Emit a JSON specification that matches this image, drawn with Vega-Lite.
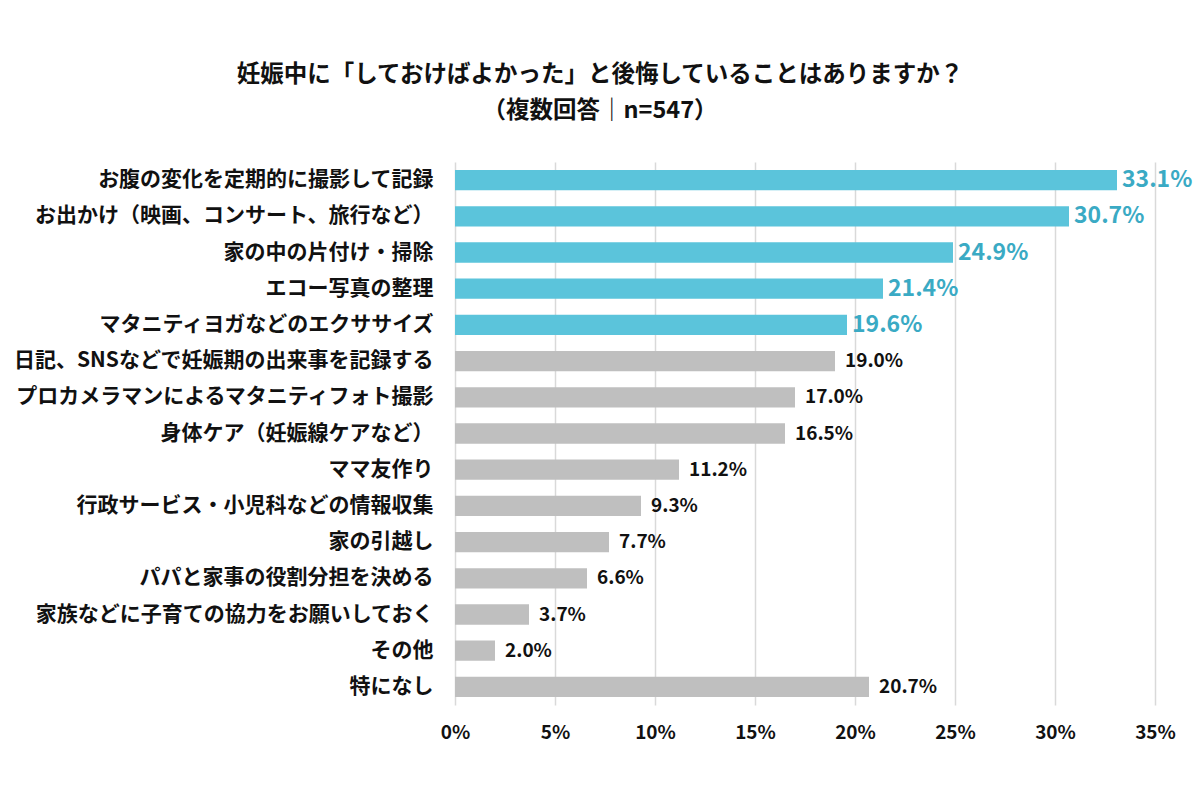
{
  "$schema": "https://vega.github.io/schema/vega-lite/v6.json",
  "width": 700,
  "height": 543,
  "autosize": {"type": "none"},
  "padding": {"left": 455, "top": 162, "right": 45, "bottom": 95},
  "background": "white",
  "title": {
    "text": ["妊娠中に「しておけばよかった」と後悔していることはありますか？", "（複数回答｜n=547）"],
    "font": "Noto Sans CJK JP",
    "fontSize": 23.5,
    "fontWeight": "bold",
    "color": "#111111",
    "lineHeight": 36,
    "anchor": "middle",
    "dx": -205,
    "offset": 40
  },
  "data": {
    "values": [
      {"item": "お腹の変化を定期的に撮影して記録", "value": 33.1, "label": "33.1%", "hl": "yes"},
      {"item": "お出かけ（映画、コンサート、旅行など）", "value": 30.7, "label": "30.7%", "hl": "yes"},
      {"item": "家の中の片付け・掃除", "value": 24.9, "label": "24.9%", "hl": "yes"},
      {"item": "エコー写真の整理", "value": 21.4, "label": "21.4%", "hl": "yes"},
      {"item": "マタニティヨガなどのエクササイズ", "value": 19.6, "label": "19.6%", "hl": "yes"},
      {"item": "日記、SNSなどで妊娠期の出来事を記録する", "value": 19.0, "label": "19.0%", "hl": "no"},
      {"item": "プロカメラマンによるマタニティフォト撮影", "value": 17.0, "label": "17.0%", "hl": "no"},
      {"item": "身体ケア（妊娠線ケアなど）", "value": 16.5, "label": "16.5%", "hl": "no"},
      {"item": "ママ友作り", "value": 11.2, "label": "11.2%", "hl": "no"},
      {"item": "行政サービス・小児科などの情報収集", "value": 9.3, "label": "9.3%", "hl": "no"},
      {"item": "家の引越し", "value": 7.7, "label": "7.7%", "hl": "no"},
      {"item": "パパと家事の役割分担を決める", "value": 6.6, "label": "6.6%", "hl": "no"},
      {"item": "家族などに子育ての協力をお願いしておく", "value": 3.7, "label": "3.7%", "hl": "no"},
      {"item": "その他", "value": 2.0, "label": "2.0%", "hl": "no"},
      {"item": "特になし", "value": 20.7, "label": "20.7%", "hl": "no"}
    ]
  },
  "encoding": {
    "y": {
      "field": "item",
      "type": "nominal",
      "sort": null,
      "scale": {"paddingInner": 0.44, "paddingOuter": 0.22},
      "axis": {
        "title": null,
        "domain": false,
        "ticks": false,
        "labelFont": "Noto Sans CJK JP",
        "labelFontSize": 21,
        "labelFontWeight": "bold",
        "labelColor": "#111111",
        "labelPadding": 22,
        "labelLimit": 450
      }
    },
    "x": {
      "field": "value",
      "type": "quantitative",
      "scale": {"domain": [0, 35], "nice": false},
      "axis": {
        "title": null,
        "domain": false,
        "ticks": false,
        "values": [0, 5, 10, 15, 20, 25, 30, 35],
        "labelExpr": "datum.value + '%'",
        "labelFlush": false,
        "labelFont": "Noto Sans CJK JP",
        "labelFontSize": 19,
        "labelFontWeight": "bold",
        "labelColor": "#111111",
        "labelPadding": 18,
        "grid": true,
        "gridColor": "#d9d9d9",
        "gridWidth": 1.5
      }
    }
  },
  "layer": [
    {
      "mark": {"type": "bar"},
      "encoding": {
        "color": {
          "field": "hl",
          "type": "nominal",
          "scale": {"domain": ["yes", "no"], "range": ["#5BC4DB", "#BFBFBF"]},
          "legend": null
        }
      }
    },
    {
      "transform": [{"filter": "datum.hl == 'yes'"}],
      "mark": {"type": "text", "align": "left", "baseline": "middle", "dx": 5, "font": "Noto Sans CJK JP", "fontSize": 23, "fontWeight": "bold", "color": "#3AAAC4"},
      "encoding": {"text": {"field": "label", "type": "nominal"}}
    },
    {
      "transform": [{"filter": "datum.hl == 'no'"}],
      "mark": {"type": "text", "align": "left", "baseline": "middle", "dx": 10, "font": "Noto Sans CJK JP", "fontSize": 19, "fontWeight": "bold", "color": "#111111"},
      "encoding": {"text": {"field": "label", "type": "nominal"}}
    }
  ],
  "config": {"view": {"stroke": null}}
}
